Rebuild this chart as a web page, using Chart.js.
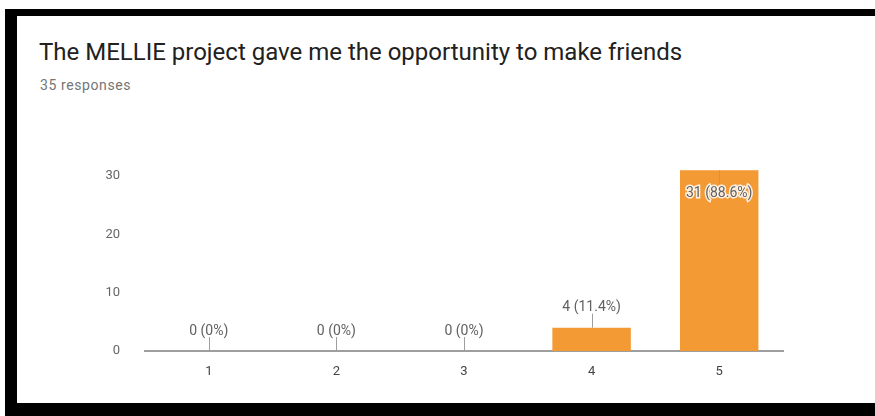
<!DOCTYPE html>
<html>
<head>
<meta charset="utf-8">
<script src="https://cdn.jsdelivr.net/npm/chart.js@4"></script>
<style>
  html, body { margin: 0; padding: 0; background: #fff; width: 875px; height: 416px; overflow: hidden; }
  #frame {
    position: absolute; left: 5px; top: 9px; width: 866px; height: 387px;
    border-top: 7px solid #000; border-left: 12px solid #000; border-bottom: 13px solid #000;
    border-right: 2px solid #e6e6e6;
  }
  #title {
    position: absolute; left: 39px; top: 38px; margin: 0;
    font-family: Roboto, sans-serif; font-size: 24px; font-weight: 400; color: #212121;
    white-space: nowrap;
  }
  #sub {
    position: absolute; left: 40px; top: 77px; margin: 0;
    font-family: Roboto, sans-serif; font-size: 14px; color: #757575; letter-spacing: 0.6px;
    white-space: nowrap;
  }
  #chartWrap { position: absolute; left: 0; top: 0; width: 875px; height: 416px; }
</style>
</head>
<body>
<div id="frame"></div>
<div id="title">The MELLIE project gave me the opportunity to make friends</div>
<div id="sub">35 responses</div>
<div id="chartWrap"><canvas id="chart"></canvas></div>
<script>
// --- Data ---
const categories = ['1', '2', '3', '4', '5'];
const responseCounts = [0, 0, 0, 4, 31];
const yTicks = [0, 10, 20, 30];

const totalResponses = responseCounts.reduce((a, b) => a + b, 0);

// --- Label above / inside each bar, with its little stem ---
const barLabels = {
    id: 'barLabels',
    afterDatasetsDraw(chart) {
        const ctx = chart.ctx;
        const meta = chart.getDatasetMeta(0);
        const area = chart.chartArea;
        ctx.save();
        ctx.font = '14px Roboto, sans-serif';
        ctx.textAlign = 'center';
        ctx.textBaseline = 'middle';
        meta.data.forEach((bar, i) => {
            const v = responseCounts[i];
            const pct = totalResponses ? (v / totalResponses * 100) : 0;
            const pctText = (Math.round(pct * 10) / 10).toString();
            const text = v + ' (' + pctText + '%)';
            const x = Math.round(bar.x) + 0.5;
            const top = bar.y;
            const inside = top - 28 < area.top;
            ctx.strokeStyle = '#9e9e9e';
            ctx.lineWidth = 1;
            ctx.beginPath();
            if (inside) {
                ctx.moveTo(x, top);
                ctx.lineTo(x, top + 14);
            } else {
                ctx.moveTo(x, top);
                ctx.lineTo(x, top - 14);
            }
            ctx.stroke();
            const ty = inside ? top + 23 : top - 20;
            if (inside) {
                ctx.lineWidth = 3;
                ctx.strokeStyle = 'rgba(255,255,255,0.85)';
                ctx.strokeText(text, bar.x, ty);
            }
            ctx.fillStyle = '#616161';
            ctx.fillText(text, bar.x, ty);
        });
        ctx.restore();
    }
};

const ctx = document.getElementById('chart').getContext('2d');
new Chart(ctx, {
    type: 'bar',
    data: {
        labels: categories,
        datasets: [{
            data: responseCounts,
            backgroundColor: '#f39a35',
            borderWidth: 0,
            categoryPercentage: 1,
            barPercentage: 0.615
        }]
    },
    options: {
        responsive: true,
        maintainAspectRatio: false,
        animation: false,
        events: [],
        layout: { padding: { left: 105, right: 92, top: 147, bottom: 35 } },
        plugins: { legend: { display: false }, tooltip: { enabled: false } },
        scales: {
            x: {
                grid: { display: false },
                border: { display: true, color: '#9e9e9e', width: 2 },
                ticks: { color: '#444', font: { family: 'Roboto', size: 13 }, padding: 5 },
                afterFit(scale) { scale.height = 30; }
            },
            y: {
                min: 0,
                max: 35,
                grid: { display: false },
                border: { display: false },
                afterBuildTicks(scale) { scale.ticks = yTicks.map(v => ({ value: v })); },
                ticks: { color: '#666', font: { family: 'Roboto', size: 13 }, padding: 17 },
                afterFit(scale) { scale.width = 40; }
            }
        }
    },
    plugins: [barLabels]
});
</script>
</body>
</html>
